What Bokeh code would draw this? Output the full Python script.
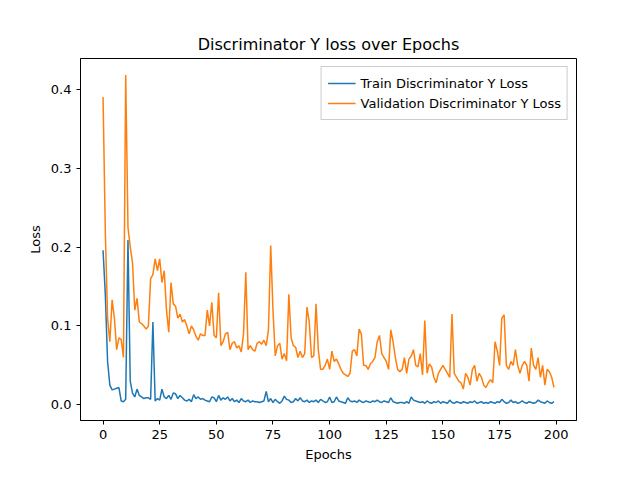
from bokeh.plotting import figure
from bokeh.models import Range1d, FixedTicker, Legend, PrintfTickFormatter
from bokeh.embed import file_html
from bokeh.resources import INLINE

epochs = list(range(200))

train_loss = [
    0.196, 0.14, 0.055, 0.025, 0.019, 0.020, 0.021, 0.022, 0.005, 0.004,
    0.007, 0.209, 0.030, 0.015, 0.010, 0.020, 0.012, 0.010, 0.008, 0.009,
    0.009, 0.007, 0.105, 0.005, 0.008, 0.006, 0.020, 0.010, 0.008, 0.012,
    0.007, 0.015, 0.014, 0.008, 0.012, 0.009, 0.006, 0.005, 0.007, 0.004,
    0.013, 0.008, 0.010, 0.007, 0.008, 0.006, 0.005, 0.004, 0.010, 0.009,
    0.004, 0.012, 0.006, 0.009, 0.007, 0.010, 0.005, 0.008, 0.004, 0.006,
    0.003, 0.008, 0.005, 0.004, 0.006, 0.003, 0.005, 0.004, 0.004, 0.003,
    0.004, 0.005, 0.017, 0.004, 0.008, 0.003, 0.007, 0.004, 0.002, 0.005,
    0.011, 0.007, 0.006, 0.003, 0.004, 0.008, 0.005, 0.009, 0.005, 0.004,
    0.006, 0.003, 0.005, 0.004, 0.006, 0.003, 0.007, 0.005, 0.003, 0.004,
    0.010, 0.003, 0.004, 0.010, 0.005, 0.004, 0.003, 0.002, 0.009, 0.005,
    0.004, 0.005, 0.003, 0.006, 0.004, 0.003, 0.005, 0.004, 0.003, 0.005,
    0.004, 0.006, 0.004, 0.003, 0.005, 0.004, 0.003, 0.009, 0.004, 0.003,
    0.002, 0.003, 0.003, 0.002, 0.004, 0.002, 0.010, 0.006, 0.005, 0.004,
    0.003, 0.004, 0.002, 0.005, 0.003, 0.002, 0.004, 0.003, 0.005, 0.002,
    0.004, 0.003, 0.002, 0.006, 0.003, 0.002, 0.004, 0.003, 0.002, 0.004,
    0.003, 0.002, 0.004, 0.003, 0.005, 0.002, 0.003, 0.004, 0.002, 0.003,
    0.002, 0.004, 0.003, 0.002, 0.004, 0.003, 0.007, 0.004, 0.002, 0.003,
    0.006, 0.003, 0.004, 0.002, 0.003, 0.005, 0.003, 0.002, 0.004, 0.003,
    0.002, 0.003, 0.006, 0.004, 0.003, 0.002, 0.005, 0.003, 0.002, 0.004,
]

val_loss = [
    0.390, 0.220, 0.110, 0.080, 0.133, 0.110, 0.070, 0.085, 0.083, 0.060,
    0.418, 0.225, 0.200, 0.180, 0.120, 0.135, 0.105, 0.103, 0.100, 0.096,
    0.100, 0.160, 0.165, 0.185, 0.170, 0.185, 0.155, 0.170, 0.120, 0.092,
    0.155, 0.128, 0.125, 0.110, 0.115, 0.105, 0.108, 0.100, 0.090, 0.100,
    0.095, 0.087, 0.082, 0.090, 0.088, 0.088, 0.120, 0.100, 0.130, 0.088,
    0.085, 0.142, 0.075, 0.080, 0.090, 0.092, 0.070, 0.078, 0.080, 0.072,
    0.075, 0.067, 0.090, 0.168, 0.070, 0.075, 0.070, 0.068, 0.078, 0.080,
    0.077, 0.082, 0.075, 0.095, 0.202, 0.120, 0.062, 0.075, 0.078, 0.058,
    0.065, 0.056, 0.140, 0.085, 0.075, 0.073, 0.060, 0.068, 0.060, 0.065,
    0.124, 0.105, 0.060, 0.062, 0.128, 0.070, 0.045, 0.045, 0.050, 0.058,
    0.045, 0.068, 0.055, 0.058, 0.052, 0.045, 0.040, 0.038, 0.036, 0.040,
    0.068, 0.070, 0.062, 0.096, 0.090, 0.050, 0.050, 0.045, 0.052, 0.055,
    0.060, 0.080, 0.088, 0.065, 0.060, 0.055, 0.045, 0.095, 0.080, 0.060,
    0.045, 0.042, 0.045, 0.060, 0.040, 0.058, 0.062, 0.070, 0.050, 0.048,
    0.065, 0.038, 0.107, 0.040, 0.052, 0.048, 0.035, 0.028, 0.040, 0.045,
    0.050, 0.045, 0.040, 0.035, 0.115, 0.040, 0.035, 0.030, 0.028, 0.020,
    0.040, 0.035, 0.025, 0.045, 0.050, 0.030, 0.040, 0.035, 0.025, 0.022,
    0.028, 0.032, 0.028, 0.080, 0.068, 0.050, 0.110, 0.114, 0.050, 0.045,
    0.055, 0.050, 0.070, 0.050, 0.040, 0.050, 0.055, 0.050, 0.030, 0.072,
    0.050, 0.045, 0.060, 0.035, 0.050, 0.025, 0.045, 0.042, 0.035, 0.022,
]

FONT = "DejaVu Sans"

p = figure(width=624, height=464, output_backend="svg", toolbar_location=None,
           title="Discriminator Y loss over Epochs",
           x_axis_label="Epochs", y_axis_label="Loss",
           x_range=Range1d(-9.95, 208.95), y_range=Range1d(-0.0198, 0.4389),
           min_border_left=80, min_border_right=48, min_border_top=58, min_border_bottom=38)
p.title.align = "center"
p.title.text_font = FONT
p.title.text_font_size = "16px"
p.title.text_font_style = "normal"
p.title.text_color = "black"
p.grid.visible = False
p.outline_line_color = "black"

for ax in (p.xaxis, p.yaxis):
    ax.axis_label_text_font = FONT
    ax.axis_label_text_font_size = "13px"
    ax.axis_label_text_font_style = "normal"
    ax.axis_label_text_color = "black"
    ax.major_label_text_font = FONT
    ax.major_label_text_font_size = "13px"
    ax.major_label_text_color = "black"
    ax.axis_line_color = "black"
    ax.major_tick_line_color = "black"
    ax.minor_tick_line_color = None
    ax.major_tick_out = 4
    ax.major_tick_in = 0
p.xaxis.ticker = FixedTicker(ticks=[0, 25, 50, 75, 100, 125, 150, 175, 200])
p.yaxis.ticker = FixedTicker(ticks=[0.0, 0.1, 0.2, 0.3, 0.4])
p.yaxis.formatter = PrintfTickFormatter(format="%.1f")

r1 = p.line(epochs, train_loss, line_color="#1f77b4", line_width=1.5)
r2 = p.line(epochs, val_loss, line_color="#ff7f0e", line_width=1.5)

legend = Legend(items=[("Train Discriminator Y Loss", [r1]),
                       ("Validation Discriminator Y Loss", [r2])],
                location="top_right", label_text_font=FONT, label_text_font_size="13px",
                label_text_color="black",
                border_line_color="#cccccc", border_line_alpha=1.0,
                glyph_width=28, spacing=0, padding=6, margin=8, label_height=16)
p.add_layout(legend)

open("out.html", "w").write(file_html(p, INLINE))
